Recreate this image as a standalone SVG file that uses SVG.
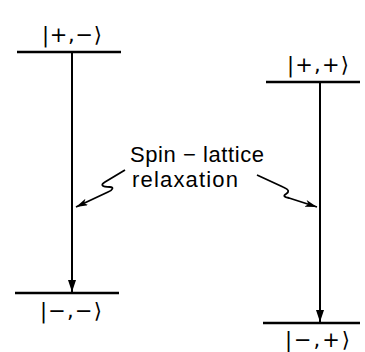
<svg xmlns="http://www.w3.org/2000/svg" width="365" height="352" viewBox="0 0 365 352">
<defs>
<style>
.lvl{stroke:#000;stroke-width:2.6;fill:none}
.tr{stroke:#000;stroke-width:2;fill:none}
.sq{stroke:#000;stroke-width:1.8;fill:none;stroke-linejoin:round}
.ket{font-family:"DejaVu Sans","Liberation Sans",sans-serif;font-size:21px;fill:#000}
.lab{font-family:"Liberation Sans",Arial,sans-serif;font-size:22px;fill:#000}
</style>
<marker id="ah" viewBox="0 0 12 8" refX="12" refY="4" markerWidth="12" markerHeight="8" markerUnits="userSpaceOnUse" orient="auto">
<path d="M0,0 L12,4 L0,8 Z" fill="#000"/>
</marker>
<marker id="ah2" viewBox="0 0 12 7" refX="12" refY="3.5" markerWidth="12" markerHeight="7" markerUnits="userSpaceOnUse" orient="auto">
<path d="M0,0 L12,3.5 L0,7 L3,3.5 Z" fill="#000"/>
</marker>
</defs>
<rect width="365" height="352" fill="#fff"/>
<g id="level-pm">
<line class="lvl" x1="17" y1="52" x2="121" y2="52"/>
<text class="ket" x="42" y="42" textLength="60" lengthAdjust="spacing">|+,−⟩</text>
</g>
<g id="level-mm">
<line class="lvl" x1="15" y1="293" x2="119" y2="293"/>
<text class="ket" x="40" y="318" textLength="62" lengthAdjust="spacing">|−,−⟩</text>
</g>
<g id="level-pp">
<line class="lvl" x1="266" y1="82" x2="360" y2="82"/>
<text class="ket" x="287" y="72" textLength="62" lengthAdjust="spacing">|+,+⟩</text>
</g>
<g id="level-mp">
<line class="lvl" x1="263" y1="323" x2="360" y2="323"/>
<text class="ket" x="285" y="347" textLength="65" lengthAdjust="spacing">|−,+⟩</text>
</g>
<g id="label">
<text class="lab" x="130" y="162" textLength="134" lengthAdjust="spacing">Spin − lattice</text>
<text class="lab" x="132" y="187" textLength="106" lengthAdjust="spacing">relaxation</text>
</g>
<g id="connectors">
<line class="tr" x1="72" y1="53" x2="72" y2="292" marker-end="url(#ah)"/>
<line class="tr" x1="320" y1="83" x2="320" y2="322" marker-end="url(#ah)"/>
<path class="sq" d="M125,170 L105,182 C100,185 102,187 110,187 C114,187 113,190 108,192 L76,207" marker-end="url(#ah2)"/>
<path class="sq" d="M257,175 L283,187 C290,190 289,192 286,194 C283,196 284,197 289,198 L317,207" marker-end="url(#ah2)"/>
</g>
</svg>
